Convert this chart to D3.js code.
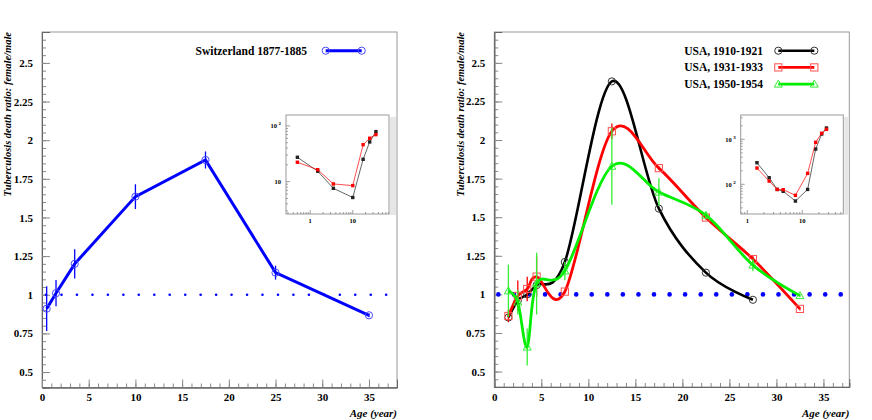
<!DOCTYPE html>
<html>
<head>
<meta charset="utf-8">
<script src="https://cdn.jsdelivr.net/npm/d3@7/dist/d3.min.js"></script>
<style>
  body { margin: 0; background: #fff; }
  svg text { font-family: "Liberation Serif", "Times New Roman", serif; }
</style>
</head>
<body>
<svg id="chart" width="872" height="420"></svg>
<script>

// ---- data ----
let swissAge = [0.5, 1.5, 3.5, 10, 17.5, 25, 35];
let swissRatio = [0.91, 1.01, 1.2, 1.635, 1.872, 1.143, 0.867];
let swissErr = [0.145, 0.085, 0.095, 0.08, 0.055, 0.045, 0.012];

let usaAge = [1.5, 2.5, 3.5, 4.5, 7.5, 12.5, 17.5, 22.5, 27.5, 32.5];
let usa1910 = [0.85, 0.96, 1.0, 1.06, 1.21, 2.38, 1.556, 1.141, 0.965];
let usa1931 = [0.86, 0.99, 1.035, 1.115, 1.018, 2.057, 1.818, 1.498, 1.229, 0.906];
let usa1931Err = [0.04, 0.1, 0.08, 0.13, 0.01, 0.05, 0.012, 0.012, 0.02, 0.01];
let usa1950 = [1.023, 0.95, 0.659, 1.07, 1.152, 1.83, 1.663, 1.513, 1.19, 0.992];
let usa1950Err = [0.17, 0.08, 0.12, 0.2, 0.06, 0.25, 0.09, 0.02, 0.04, 0.01];

// the dotted reference at ratio = 1
let refDotAge = [0.43, 2.09, 3.74, 5.40, 7.05, 8.71, 10.36, 12.02, 13.67, 15.33, 16.98, 18.64,
                 20.29, 21.95, 23.60, 25.26, 26.91, 28.57, 30.22, 31.88, 33.53, 35.19, 36.84];

let yTicks = [0.5, 0.75, 1, 1.25, 1.5, 1.75, 2, 2.25, 2.5];
let yTickLabels = ['0.5', '0.75', '1', '1.25', '1.5', '1.75', '2', '2.25', '2.5'];
let xTicks = [0, 5, 10, 15, 20, 25, 30, 35];

// insets (log-log death rates, male black / female red)
let insetSwissAge = [0.5, 1.5, 3.5, 10, 17.5, 25, 35];
let insetSwissMale = [27.4, 15.4, 7.6, 5.2, 25.2, 51.6, 79];
let insetSwissFemale = [22.3, 16.4, 9.1, 8.5, 46.1, 60.1, 69.8];

let insetUsaAge = [1.5, 2.5, 3.5, 4.5, 7.5, 12.5, 17.5, 22.5, 27.5];
let insetUsaMale = [302, 140, 77, 70, 42.5, 77, 608, 1312, 1783];
let insetUsaFemale = [230, 118, 77, 76, 57, 175, 858, 1360, 1667];

let yTitle = 'Tuberculosis death ratio: female/male';
let xTitle = 'Age (year)';

let svg = d3.select('#chart');

let marker = function(g, shape, cx, cy, color) {
  if (shape == 'circle') {
    g.append('circle').attr('cx', cx).attr('cy', cy).attr('r', 3.6)
      .attr('fill', 'none').attr('stroke', color).attr('stroke-width', 1);
  } else if (shape == 'square') {
    g.append('rect').attr('x', cx - 3.6).attr('y', cy - 3.6).attr('width', 7.2).attr('height', 7.2)
      .attr('fill', 'none').attr('stroke', color).attr('stroke-width', 1);
  } else {
    g.append('path').attr('d', 'M' + [cx - 4, cy + 3] + 'L' + [cx + 4, cy + 3] + 'L' + [cx, cy - 4] + 'Z')
      .attr('fill', 'none').attr('stroke', color).attr('stroke-width', 1);
  }
};

let styleAxis = function(sel) {
  sel.attr('font-family', null).attr('font-size', 11);
  sel.select('.domain').attr('stroke', '#666');
  sel.selectAll('.tick line').attr('stroke', '#888');
  sel.selectAll('.tick text').attr('fill', '#000').attr('font-weight', 'bold');
};

let Panel = function(cfg) {
  this.cfg = cfg;
  this.g = svg.append('g');
  this.x = d3.scaleLinear().domain(cfg.xDomain).range([cfg.left, cfg.right]);
  this.y = d3.scaleLinear().domain([0.4, 2.7]).range([cfg.bottom, cfg.top]);
};

Panel.prototype.drawFrame = function() {
  let c = this.cfg, g = this.g;
  g.append('rect').attr('x', c.left).attr('y', c.top)
    .attr('width', c.right - c.left).attr('height', c.bottom - c.top)
    .attr('fill', 'none').attr('stroke', '#999');

  // minor ticks first
  g.append('g').attr('transform', 'translate(' + [c.left, 0] + ')')
    .call(d3.axisLeft(this.y).tickValues(d3.range(0.45, 2.7, 0.05)).tickSize(-4).tickFormat(''))
    .call(styleAxis);
  g.append('g').attr('transform', 'translate(' + [c.left, 0] + ')')
    .call(d3.axisLeft(this.y).tickValues(yTicks).tickSize(-8).tickPadding(9)
      .tickFormat((d, i) => yTickLabels[i]))
    .call(styleAxis);

  g.append('g').attr('transform', 'translate(' + [0, c.bottom] + ')')
    .call(d3.axisBottom(this.x).tickValues(d3.range(1, c.xDomain[1], 1)).tickSize(-4).tickFormat(''))
    .call(styleAxis);
  g.append('g').attr('transform', 'translate(' + [0, c.bottom] + ')')
    .call(d3.axisBottom(this.x).tickValues(xTicks).tickSize(-8).tickPadding(6).tickFormat(d3.format('d')))
    .call(styleAxis);

  g.append('text')
    .attr('transform', 'translate(' + [c.titleX, c.top] + ') rotate(-90)')
    .attr('text-anchor', 'end').attr('font-size', 10.5)
    .attr('font-weight', 'bold').attr('font-style', 'italic')
    .text(yTitle);
  g.append('text')
    .attr('x', c.right).attr('y', 417)
    .attr('text-anchor', 'end').attr('font-size', 11)
    .attr('font-weight', 'bold').attr('font-style', 'italic')
    .text(xTitle);
};

Panel.prototype.drawRefDots = function(r) {
  let x = this.x, y = this.y;
  this.g.append('g').selectAll('circle').data(refDotAge).enter().append('circle')
    .attr('cx', d => x(d)).attr('cy', y(1)).attr('r', r).attr('fill', '#0000ff');
};

Panel.prototype.drawSeries = function(s) {
  let x = this.x, y = this.y, g = this.g.append('g');
  let pts = s.values.map((v, i) => [s.ages[i], v]);
  if (s.errs) {
    g.selectAll('line.err').data(pts).enter().append('line')
      .attr('x1', d => x(d[0])).attr('x2', d => x(d[0]))
      .attr('y1', (d, i) => y(d[1] - s.errs[i])).attr('y2', (d, i) => y(d[1] + s.errs[i]))
      .attr('stroke', s.errColor || s.color).attr('stroke-width', 1.3);
  }
  let line = d3.line().x(d => x(d[0])).y(d => y(d[1]));
  if (s.smooth) line.curve(d3.curveCatmullRom.alpha(0));
  g.append('path').attr('d', line(pts))
    .attr('fill', 'none').attr('stroke', s.color).attr('stroke-width', s.width);
  pts.forEach(d => marker(g, s.shape, x(d[0]), y(d[1]), s.markColor));
};

Panel.prototype.drawLegend = function(entries, textX, lineX0, lineX1, y0) {
  let g = this.g.append('g');
  entries.forEach((s, i) => {
    let yy = y0 + i * 16.7;
    g.append('text').attr('x', textX).attr('y', yy + 4).attr('font-size', 11.5)
      .attr('font-weight', 'bold').text(s.label);
    g.append('line').attr('x1', lineX0).attr('x2', lineX1).attr('y1', yy).attr('y2', yy)
      .attr('stroke', s.color).attr('stroke-width', s.width);
    marker(g, s.shape, lineX0, yy, s.markColor);
    marker(g, s.shape, lineX1, yy, s.markColor);
  });
};

let drawInset = function(cfg) {
  let g = svg.append('g');
  let x = d3.scaleLog().domain(cfg.xDomain).range([cfg.left, cfg.right]);
  let y = d3.scaleLog().domain(cfg.yDomain).range([cfg.bottom, cfg.top]);

  g.append('rect').attr('x', cfg.right + 1).attr('y', cfg.top + 2)
    .attr('width', cfg.padRight - cfg.right - 2).attr('height', cfg.bottom - cfg.top - 1)
    .attr('fill', '#e6e6e6');
  g.append('rect').attr('x', cfg.left).attr('y', cfg.top)
    .attr('width', cfg.right - cfg.left).attr('height', cfg.bottom - cfg.top)
    .attr('fill', '#fff').attr('stroke', '#999').attr('stroke-width', 1);

  let xMinor = x.ticks().filter(d => d > cfg.xDomain[0] && d < cfg.xDomain[1]);
  let yMinor = y.ticks().filter(d => d > cfg.yDomain[0] && d < cfg.yDomain[1]);
  g.append('g').selectAll('line').data(xMinor).enter().append('line')
    .attr('x1', d => x(d)).attr('x2', d => x(d)).attr('y1', cfg.bottom)
    .attr('y2', d => cfg.bottom - (cfg.xMajor.indexOf(d) >= 0 ? 4 : 2))
    .attr('stroke', '#888').attr('stroke-width', 0.8);
  g.append('g').selectAll('line').data(yMinor).enter().append('line')
    .attr('y1', d => y(d)).attr('y2', d => y(d)).attr('x1', cfg.left)
    .attr('x2', d => cfg.left + (cfg.yMajor.indexOf(d) >= 0 ? 4 : 2))
    .attr('stroke', '#888').attr('stroke-width', 0.8);

  cfg.xMajor.forEach((d, i) => {
    g.append('text').attr('x', x(d)).attr('y', cfg.bottom + 9).attr('text-anchor', 'middle')
      .attr('font-size', 6.5).attr('font-weight', 'bold').text(cfg.xLabels[i]);
  });
  cfg.yMajor.forEach((d, i) => {
    let t = g.append('text').attr('x', cfg.left - 5).attr('y', y(d) + 2.3).attr('text-anchor', 'end')
      .attr('font-size', 6.5).attr('font-weight', 'bold').text('10');
    if (cfg.yExp[i]) {
      t.append('tspan').attr('dy', -3).attr('dx', 1.5).attr('font-size', 5).text(cfg.yExp[i]);
    }
  });

  let line = d3.line().x(d => x(d[0])).y(d => y(d[1]));
  [[cfg.male, '#222'], [cfg.female, '#ff0000']].forEach(s => {
    let pts = s[0].map((v, i) => [cfg.ages[i], v]);
    g.append('path').attr('d', line(pts)).attr('fill', 'none')
      .attr('stroke', s[1]).attr('stroke-width', 0.7);
    g.append('g').selectAll('rect').data(pts).enter().append('rect')
      .attr('x', d => x(d[0]) - 1.7).attr('y', d => y(d[1]) - 1.7)
      .attr('width', 3.4).attr('height', 3.4).attr('fill', s[1]);
  });
};

// ---- left panel: Switzerland ----
let left = new Panel({left: 42, right: 397, top: 32, bottom: 387.5, xDomain: [0, 38], titleX: 10.5});
left.drawFrame();
left.drawRefDots(1.3);
let swiss = {label: 'Switzerland 1877-1885', ages: swissAge, values: swissRatio, errs: swissErr,
  color: '#0000ff', markColor: '#4a4aff', width: 3, shape: 'circle'};
left.drawSeries(swiss);
left.drawLegend([swiss], 195.5, 325.7, 361.7, 50.7);
drawInset({left: 286, right: 389, top: 115, bottom: 214, padRight: 397,
  xDomain: [0.27, 71], yDomain: [2.63, 157],
  xMajor: [1, 10], xLabels: ['1', '10'], yMajor: [10, 100], yExp: ['', '2'],
  ages: insetSwissAge, male: insetSwissMale, female: insetSwissFemale});

// ---- right panel: USA ----
let right = new Panel({left: 494.3, right: 849.3, top: 32, bottom: 387, xDomain: [0, 37.75], titleX: 464});
right.drawFrame();
right.drawRefDots(2.3);
let s1910 = {label: 'USA, 1910-1921', ages: usaAge, values: usa1910,
  color: '#000000', markColor: '#333', width: 2.6, shape: 'circle', smooth: true};
let s1931 = {label: 'USA, 1931-1933', ages: usaAge, values: usa1931, errs: usa1931Err,
  color: '#ff0000', markColor: '#ff5050', width: 2.8, shape: 'square', smooth: true};
let s1950 = {label: 'USA, 1950-1954', ages: usaAge, values: usa1950, errs: usa1950Err,
  color: '#00ee00', markColor: '#33ee33', errColor: '#33ee33', width: 2.8, shape: 'triangle', smooth: true};
right.drawSeries(s1910);
right.drawSeries(s1931);
right.drawSeries(s1950);
right.drawLegend([s1910, s1931, s1950], 684.3, 778.3, 814.3, 50.7);
drawInset({left: 740.7, right: 843.3, top: 115, bottom: 214, padRight: 849.3,
  xDomain: [0.76, 55.6], yDomain: [21.9, 3470],
  xMajor: [1, 10], xLabels: ['1', '10'], yMajor: [100, 1000], yExp: ['2', '3'],
  ages: insetUsaAge, male: insetUsaMale, female: insetUsaFemale});

</script>
</body>
</html>
